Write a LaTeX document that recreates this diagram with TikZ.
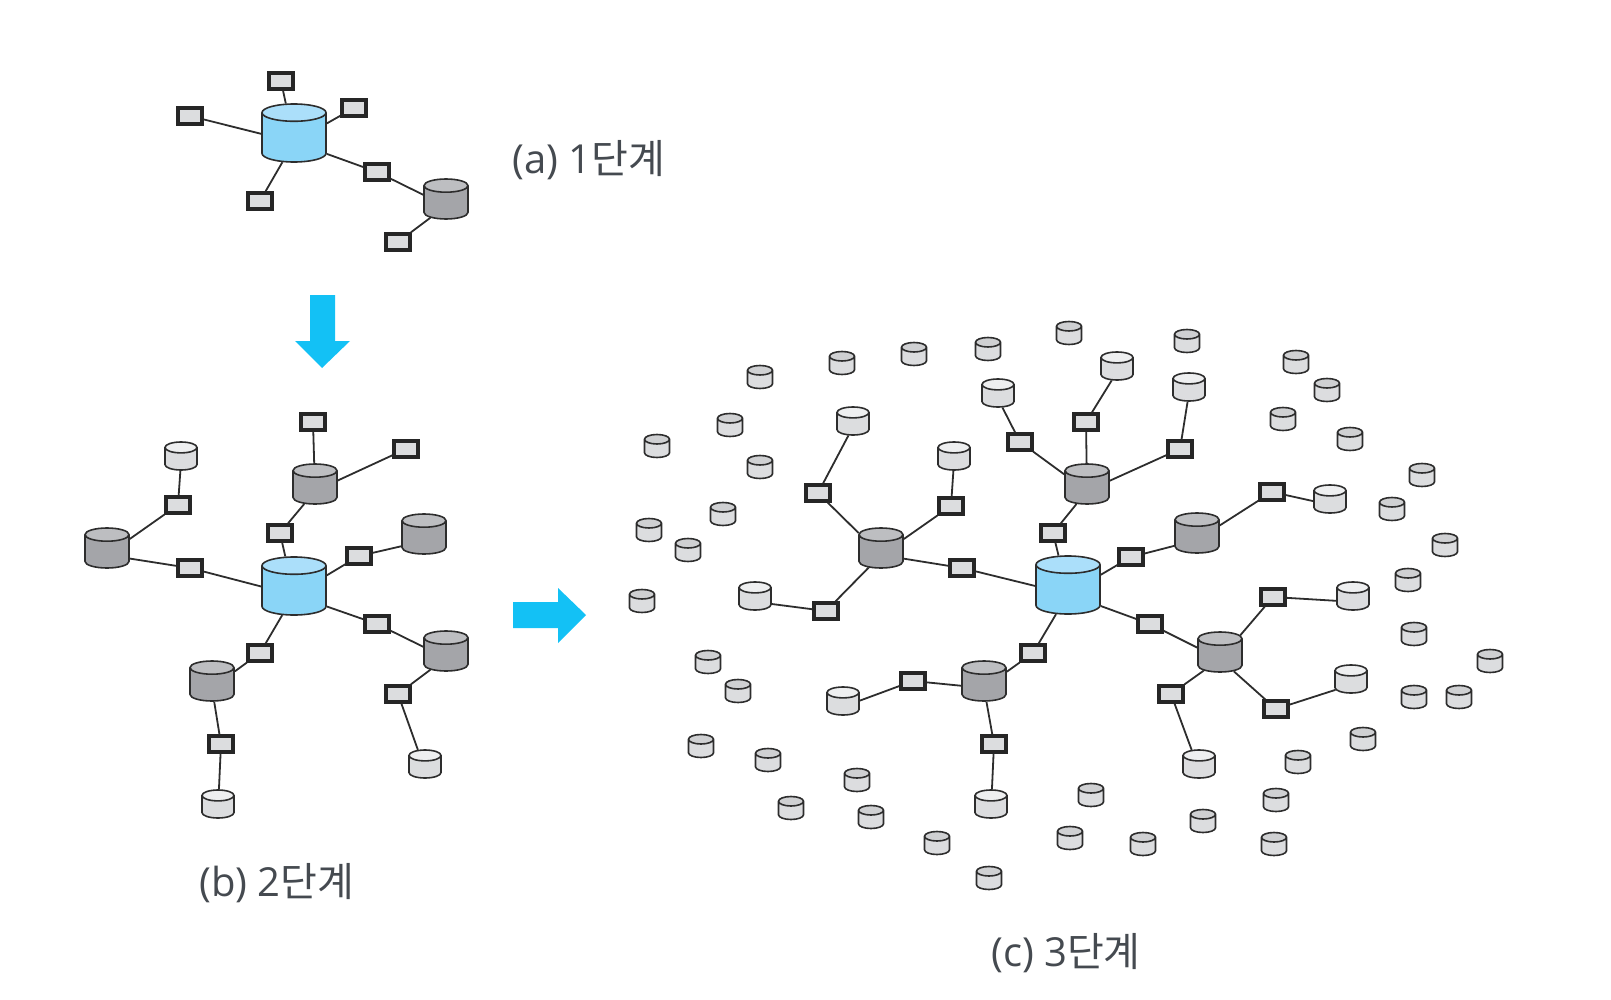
\documentclass[tikz,border=0pt]{standalone}
\usepackage{fontspec}
\setmainfont{Open Sans}
\newfontfamily\hangul{Noto Sans CJK KR}
\usetikzlibrary{shapes.geometric}

\definecolor{hubblue}{HTML}{8AD5F7}
\definecolor{hubtop}{HTML}{ABDFFA}
\definecolor{relaygray}{HTML}{A4A5A9}
\definecolor{relaytop}{HTML}{BDBEC1}
\definecolor{leafgray}{HTML}{DCDDDF}
\definecolor{leaftop}{HTML}{EEEFF0}
\definecolor{smalltop}{HTML}{CFD0D2}
\definecolor{arrowblue}{HTML}{13C1F5}
\definecolor{edgegray}{HTML}{2D2D2D}
\definecolor{labelgray}{HTML}{454A50}

\tikzset{
	db/.style={cylinder, shape border rotate=90, anchor=shape center, draw=edgegray, line width=1.6pt, inner ysep=0pt, cylinder uses custom fill},
	hub/.style={db, aspect=0.27, inner xsep=32pt, minimum height=58pt, cylinder body fill=hubblue, cylinder end fill=hubtop},
	relay/.style={db, aspect=0.3, inner xsep=22pt, minimum height=40pt, cylinder body fill=relaygray, cylinder end fill=relaytop},
	mid/.style={db, aspect=0.34, inner xsep=16pt, minimum height=28pt, cylinder body fill=leafgray, cylinder end fill=leaftop},
	small/.style={db, aspect=0.38, inner xsep=12.5pt, minimum height=23pt, cylinder body fill=leafgray, cylinder end fill=smalltop},
	port/.style={rectangle, draw=black!85, line width=3.2pt, fill=leafgray, inner sep=0pt, minimum width=24pt, minimum height=16pt},
	link/.style={draw=edgegray, line width=1.8pt},
	caption/.style={text=labelgray, font=\fontsize{40pt}{46pt}\selectfont, inner sep=0pt},
}

\begin{document}
\begin{tikzpicture}[x=1pt, y=-1pt]
	\useasboundingbox (0,0) rectangle (1611,1000);

	% step one
	\node[hub] (a) at (294,133) {};
	\node[relay] (ar) at (446,199) {};
	\node[port] (a1) at (281,81) {};
	\node[port] (a2) at (190,116) {};
	\node[port] (a3) at (354,108) {};
	\node[port] (a4) at (377,172) {};
	\node[port] (a5) at (260,201) {};
	\node[port] (a6) at (398,242) {};
	\draw[link] (a) -- (a1);
	\draw[link] (a) -- (a2);
	\draw[link] (a) -- (a3);
	\draw[link] (a) -- (a5);
	\draw[link] (a) -- (a4) -- (ar) -- (a6);
	\node[caption, anchor=west] (acap) at (512,160) {(a) 1{\hangul 단계}};

	\fill[arrowblue] (310,295) -- (335,295) -- (335,341) -- (350,341) -- (322,368) -- (295,341) -- (310,341) -- cycle;

	% step two
	\node[hub] (b) at (294,586) {};
	\node[relay] (br1) at (315,484) {};
	\node[relay] (br2) at (424,534) {};
	\node[relay] (br3) at (446,651) {};
	\node[relay] (br4) at (212,681) {};
	\node[relay] (br5) at (107,548) {};
	\node[mid] (bl1) at (181,456) {};
	\node[mid] (bl2) at (425,764) {};
	\node[mid] (bl3) at (218,804) {};
	\node[port] (b1) at (280,533) {};
	\node[port] (b2) at (313,422) {};
	\node[port] (b3) at (406,449) {};
	\node[port] (b4) at (359,556) {};
	\node[port] (b5) at (377,624) {};
	\node[port] (b6) at (398,694) {};
	\node[port] (b7) at (260,653) {};
	\node[port] (b8) at (221,744) {};
	\node[port] (b9) at (190,568) {};
	\node[port] (b10) at (178,505) {};
	\draw[link] (b) -- (b1) -- (br1) -- (b2);
	\draw[link] (br1) -- (b3);
	\draw[link] (b) -- (b4) -- (br2);
	\draw[link] (b) -- (b5) -- (br3) -- (b6) -- (bl2);
	\draw[link] (b) -- (b7) -- (br4) -- (b8) -- (bl3);
	\draw[link] (b) -- (b9) -- (br5) -- (b10) -- (bl1);
	\node[caption, anchor=west] (bcap) at (199,883) {(b) 2{\hangul 단계}};

	\fill[arrowblue] (513,602) -- (558,602) -- (558,588) -- (586,615) -- (558,643) -- (558,628) -- (513,628) -- cycle;

	% step three
	\node[hub] (c) at (1068,585) {};
	\node[relay] (cr1) at (1087,484) {};
	\node[relay] (cr2) at (1197,533) {};
	\node[relay] (cr3) at (1220,652) {};
	\node[relay] (cr4) at (984,681) {};
	\node[relay] (cr5) at (881,548) {};
	\node[mid] (cm1) at (998,393) {};
	\node[mid] (cm2) at (1117,366) {};
	\node[mid] (cm3) at (1189,387) {};
	\node[mid] (cm4) at (1330,499) {};
	\node[mid] (cm5) at (1353,596) {};
	\node[mid] (cm6) at (1351,679) {};
	\node[mid] (cm7) at (1199,764) {};
	\node[mid] (cm8) at (843,701) {};
	\node[mid] (cm9) at (991,804) {};
	\node[mid] (cm10) at (853,421) {};
	\node[mid] (cm11) at (954,456) {};
	\node[mid] (cm12) at (755,596) {};
	\node[port] (c1) at (1053,533) {};
	\node[port] (c2) at (1020,442) {};
	\node[port] (c3) at (1086,422) {};
	\node[port] (c4) at (1180,449) {};
	\node[port] (c5) at (1131,557) {};
	\node[port] (c6) at (1272,492) {};
	\node[port] (c7) at (1150,624) {};
	\node[port] (c8) at (1273,597) {};
	\node[port] (c9) at (1276,709) {};
	\node[port] (c10) at (1171,694) {};
	\node[port] (c11) at (1033,653) {};
	\node[port] (c12) at (913,681) {};
	\node[port] (c13) at (994,744) {};
	\node[port] (c14) at (962,568) {};
	\node[port] (c15) at (818,493) {};
	\node[port] (c16) at (951,506) {};
	\node[port] (c17) at (826,611) {};
	\draw[link] (c) -- (c1) -- (cr1) -- (c2) -- (cm1);
	\draw[link] (cr1) -- (c3) -- (cm2);
	\draw[link] (cr1) -- (c4) -- (cm3);
	\draw[link] (c) -- (c5) -- (cr2) -- (c6) -- (cm4);
	\draw[link] (c) -- (c7) -- (cr3) -- (c8) -- (cm5);
	\draw[link] (cr3) -- (c9) -- (cm6);
	\draw[link] (cr3) -- (c10) -- (cm7);
	\draw[link] (c) -- (c11) -- (cr4) -- (c12) -- (cm8);
	\draw[link] (cr4) -- (c13) -- (cm9);
	\draw[link] (c) -- (c14) -- (cr5) -- (c15) -- (cm10);
	\draw[link] (cr5) -- (c16) -- (cm11);
	\draw[link] (cr5) -- (c17) -- (cm12);

	\node[small] (s1) at (760,377) {};
	\node[small] (s2) at (842,363) {};
	\node[small] (s3) at (914,354) {};
	\node[small] (s4) at (988,349) {};
	\node[small] (s5) at (1069,333) {};
	\node[small] (s6) at (1187,341) {};
	\node[small] (s7) at (1296,362) {};
	\node[small] (s8) at (1327,390) {};
	\node[small] (s9) at (1283,419) {};
	\node[small] (s10) at (1350,439) {};
	\node[small] (s11) at (1422,475) {};
	\node[small] (s12) at (1392,509) {};
	\node[small] (s13) at (1445,545) {};
	\node[small] (s14) at (1408,580) {};
	\node[small] (s15) at (1414,634) {};
	\node[small] (s16) at (1490,661) {};
	\node[small] (s17) at (1414,697) {};
	\node[small] (s18) at (1459,697) {};
	\node[small] (s19) at (1363,739) {};
	\node[small] (s20) at (1298,762) {};
	\node[small] (s21) at (1276,800) {};
	\node[small] (s22) at (1203,821) {};
	\node[small] (s23) at (1143,844) {};
	\node[small] (s24) at (1274,844) {};
	\node[small] (s25) at (1091,795) {};
	\node[small] (s26) at (1070,838) {};
	\node[small] (s27) at (989,878) {};
	\node[small] (s28) at (937,843) {};
	\node[small] (s29) at (871,817) {};
	\node[small] (s30) at (791,808) {};
	\node[small] (s31) at (857,780) {};
	\node[small] (s32) at (768,760) {};
	\node[small] (s33) at (701,746) {};
	\node[small] (s34) at (738,691) {};
	\node[small] (s35) at (708,662) {};
	\node[small] (s36) at (642,601) {};
	\node[small] (s37) at (688,550) {};
	\node[small] (s38) at (649,530) {};
	\node[small] (s39) at (723,514) {};
	\node[small] (s40) at (760,467) {};
	\node[small] (s41) at (730,425) {};
	\node[small] (s42) at (657,446) {};
	\node[caption, anchor=west] (ccap) at (991,953) {(c) 3{\hangul 단계}};
\end{tikzpicture}
\end{document}
